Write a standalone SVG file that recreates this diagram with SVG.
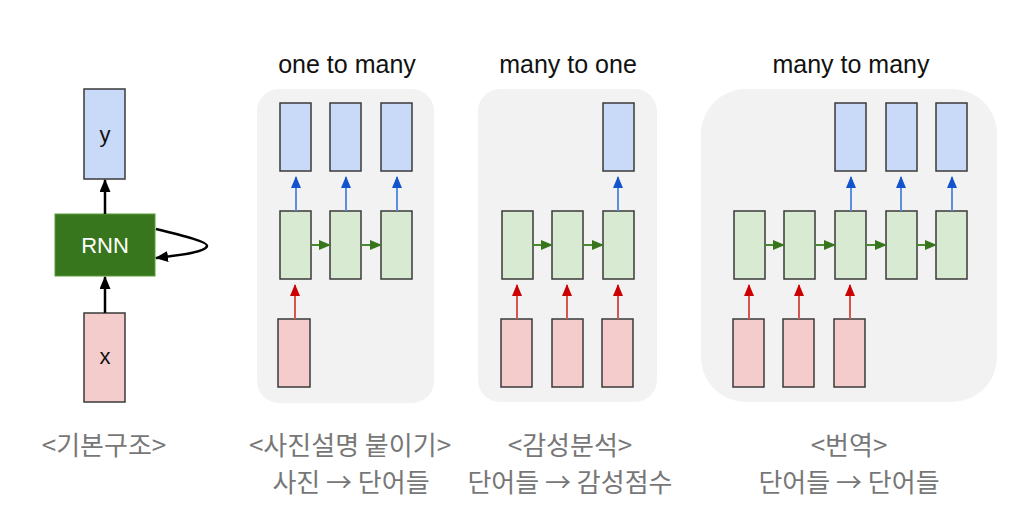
<svg xmlns="http://www.w3.org/2000/svg" width="1032" height="528" viewBox="0 0 1032 528">
<defs>
<style>
.pan{fill:#f2f2f2}
.b{fill:#c9daf8;stroke:#3a3a3a;stroke-width:1.5}
.g{fill:#d9ead3;stroke:#3a3a3a;stroke-width:1.5}
.r{fill:#f4cccc;stroke:#3a3a3a;stroke-width:1.5}
.ab{stroke:#5b8de0;stroke-width:2;fill:none}
.ag{stroke:#4a8a2e;stroke-width:2;fill:none}
.ar{stroke:#d9534f;stroke-width:2;fill:none}
.ak{stroke:#000;stroke-width:2.5;fill:none}
.t{font-family:"Liberation Sans",Arial,sans-serif;font-size:25px;fill:#111;text-anchor:middle}
.n{font-family:"Liberation Sans",Arial,sans-serif;font-size:22px;text-anchor:middle;fill:#111}
.lab{font-family:"Noto Sans CJK KR","Noto Sans",sans-serif;font-size:26px;fill:#777;text-anchor:middle}
</style>
<marker id="mb" markerWidth="12" markerHeight="10" refX="11" refY="5" orient="auto" markerUnits="userSpaceOnUse" viewBox="0 0 12 10"><path d="M0,0 L12,5 L0,10 z" fill="#1155cc"/></marker>
<marker id="mg" markerWidth="12" markerHeight="10" refX="11" refY="5" orient="auto" markerUnits="userSpaceOnUse" viewBox="0 0 12 10"><path d="M0,0 L12,5 L0,10 z" fill="#38761d"/></marker>
<marker id="mr" markerWidth="12" markerHeight="10" refX="11" refY="5" orient="auto" markerUnits="userSpaceOnUse" viewBox="0 0 12 10"><path d="M0,0 L12,5 L0,10 z" fill="#cc0000"/></marker>
<marker id="mk" markerWidth="13" markerHeight="11" refX="12" refY="5.5" orient="auto" markerUnits="userSpaceOnUse" viewBox="0 0 13 11"><path d="M0,0 L13,5.5 L0,11 z" fill="#000"/></marker>
</defs>
<rect width="1032" height="528" fill="#fff"/>

<g id="panels">
<rect class="pan" x="257" y="89" width="177" height="314" rx="22"/>
<rect class="pan" x="478" y="89" width="179" height="313" rx="22"/>
<rect class="pan" x="701" y="89" width="296" height="313" rx="45"/>
</g>

<g id="titles">
<text class="t" x="347" y="73">one to many</text>
<text class="t" x="568" y="73">many to one</text>
<text class="t" x="851" y="73">many to many</text>
</g>

<g id="basic">
<g id="node-y"><rect class="b" x="84" y="89" width="41" height="90"/><text class="n" x="105" y="142">y</text></g>
<g id="node-rnn"><rect x="55" y="214" width="100" height="62" fill="#38761d" stroke="#5a9a3a" stroke-width="1"/><text class="n" x="105" y="253" style="fill:#fff">RNN</text></g>
<g id="node-x"><rect class="r" x="84" y="313" width="41" height="89"/><text class="n" x="105" y="364">x</text></g>
</g>

<g id="nodes-one-to-many">
<rect class="b" x="280" y="103" width="31" height="68"/>
<rect class="b" x="330" y="103" width="31" height="68"/>
<rect class="b" x="381" y="103" width="31" height="68"/>
<rect class="g" x="280" y="211" width="31" height="68"/>
<rect class="g" x="330" y="211" width="31" height="68"/>
<rect class="g" x="381" y="211" width="31" height="68"/>
<rect class="r" x="278" y="319" width="32" height="68"/>
</g>

<g id="nodes-many-to-one">
<rect class="b" x="603" y="103" width="31" height="68"/>
<rect class="g" x="502" y="211" width="31" height="68"/>
<rect class="g" x="552" y="211" width="31" height="68"/>
<rect class="g" x="603" y="211" width="31" height="68"/>
<rect class="r" x="501" y="319" width="31" height="68"/>
<rect class="r" x="552" y="319" width="31" height="68"/>
<rect class="r" x="602" y="319" width="31" height="68"/>
</g>

<g id="nodes-many-to-many">
<rect class="b" x="835" y="103" width="31" height="68"/>
<rect class="b" x="886" y="103" width="31" height="68"/>
<rect class="b" x="936" y="103" width="31" height="68"/>
<rect class="g" x="734" y="211" width="31" height="68"/>
<rect class="g" x="784" y="211" width="31" height="68"/>
<rect class="g" x="835" y="211" width="31" height="68"/>
<rect class="g" x="886" y="211" width="31" height="68"/>
<rect class="g" x="936" y="211" width="31" height="68"/>
<rect class="r" x="733" y="319" width="31" height="68"/>
<rect class="r" x="783" y="319" width="31" height="68"/>
<rect class="r" x="834" y="319" width="31" height="68"/>
</g>

<g id="connectors">
<line class="ak" x1="105" y1="214" x2="105" y2="180" marker-end="url(#mk)"/>
<line class="ak" x1="105" y1="313" x2="105" y2="277" marker-end="url(#mk)"/>
<path class="ak" d="M156,229 C185,236 208,242 207,246 C206,252 180,255 156,258" stroke-width="2" marker-end="url(#mk)"/>

<line class="ab" x1="296" y1="211" x2="296" y2="177" marker-end="url(#mb)"/>
<line class="ab" x1="346" y1="211" x2="346" y2="177" marker-end="url(#mb)"/>
<line class="ab" x1="397" y1="211" x2="397" y2="177" marker-end="url(#mb)"/>
<line class="ag" x1="311" y1="245" x2="330" y2="245" marker-end="url(#mg)"/>
<line class="ag" x1="361" y1="245" x2="381" y2="245" marker-end="url(#mg)"/>
<line class="ar" x1="295" y1="319" x2="295" y2="285" marker-end="url(#mr)"/>

<line class="ab" x1="618" y1="211" x2="618" y2="177" marker-end="url(#mb)"/>
<line class="ag" x1="533" y1="245" x2="552" y2="245" marker-end="url(#mg)"/>
<line class="ag" x1="583" y1="245" x2="603" y2="245" marker-end="url(#mg)"/>
<line class="ar" x1="517" y1="319" x2="517" y2="285" marker-end="url(#mr)"/>
<line class="ar" x1="567" y1="319" x2="567" y2="285" marker-end="url(#mr)"/>
<line class="ar" x1="618" y1="319" x2="618" y2="285" marker-end="url(#mr)"/>

<line class="ab" x1="851" y1="211" x2="851" y2="177" marker-end="url(#mb)"/>
<line class="ab" x1="901" y1="211" x2="901" y2="177" marker-end="url(#mb)"/>
<line class="ab" x1="952" y1="211" x2="952" y2="177" marker-end="url(#mb)"/>
<line class="ag" x1="765" y1="245" x2="784" y2="245" marker-end="url(#mg)"/>
<line class="ag" x1="815" y1="245" x2="835" y2="245" marker-end="url(#mg)"/>
<line class="ag" x1="866" y1="245" x2="886" y2="245" marker-end="url(#mg)"/>
<line class="ag" x1="917" y1="245" x2="936" y2="245" marker-end="url(#mg)"/>
<line class="ar" x1="749" y1="319" x2="749" y2="285" marker-end="url(#mr)"/>
<line class="ar" x1="799" y1="319" x2="799" y2="285" marker-end="url(#mr)"/>
<line class="ar" x1="850" y1="319" x2="850" y2="285" marker-end="url(#mr)"/>
</g>

<g id="labels">
<text class="lab" x="104" y="455">&lt;기본구조&gt;</text>
<text class="lab" x="350" y="455">&lt;사진설명 붙이기&gt;</text>
<text class="lab" x="351" y="492">사진 → 단어들</text>
<text class="lab" x="570" y="455">&lt;감성분석&gt;</text>
<text class="lab" x="570" y="492">단어들 → 감성점수</text>
<text class="lab" x="849" y="455">&lt;번역&gt;</text>
<text class="lab" x="849" y="492">단어들 → 단어들</text>
</g>
</svg>
